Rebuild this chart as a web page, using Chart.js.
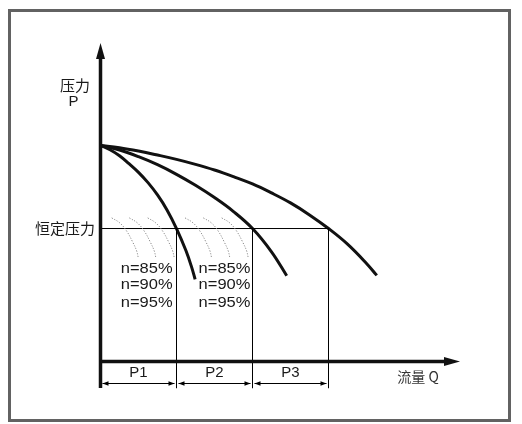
<!DOCTYPE html>
<html>
<head>
<meta charset="utf-8">
<script src="https://cdn.jsdelivr.net/npm/chart.js@4.4.1/dist/chart.umd.min.js"></script>
<style>
html,body{margin:0;padding:0;background:#fff;}
#wrap{width:522px;height:424px;position:relative;}
canvas{display:block;}
</style>
</head>
<body>
<div id="wrap"><canvas id="c" width="522" height="424"></canvas></div>
<script>
// ---- data (flow Q, pressure P) ----
const curve1Q = [0, 2.5, 5, 7.5, 10, 12.5, 15, 17.5, 20, 22.5, 24, 24.9];
const curve1P = [6.5, 6.37, 6.19, 5.95, 5.69, 5.38, 5.01, 4.56, 4.0, 3.33, 2.83, 2.47];
const curve2Q = [0, 5, 10, 15, 20, 25, 30, 35, 40, 45, 49];
const curve2P = [6.5, 6.36, 6.16, 5.92, 5.63, 5.30, 4.93, 4.51, 4.0, 3.3, 2.58];
const curve3Q = [0, 5, 10, 15, 20, 25, 30, 35, 40, 45, 50, 55, 60, 65, 70, 72.7];
const curve3P = [6.5, 6.43, 6.33, 6.21, 6.08, 5.93, 5.76, 5.56, 5.34, 5.07, 4.77, 4.41, 4.0, 3.53, 2.95, 2.59];

const constPressure = 4.0;
const zoneBounds = [0, 20, 40, 60];
const zoneLabels = ["P1", "P2", "P3"];

const arcP  = [4.32, 4.17, 3.92, 3.59, 3.32, 3.11];
const arc1Q = [2.95, 5.06, 6.90, 8.48, 9.53, 9.95];
const arc2Q = [7.58, 9.69, 11.53, 13.11, 14.16, 14.58];
const arc3Q = [12.42, 14.53, 16.37, 17.95, 19.00, 19.42];
const arc4Q = [22.24, 24.35, 26.19, 27.77, 28.82, 29.24];
const arc5Q = [27.05, 29.16, 31.00, 32.58, 33.63, 34.05];
const arc6Q = [31.89, 34.00, 35.84, 37.42, 38.47, 38.89];

const effLabels = ["n=85%", "n=90%", "n=95%"];
const effGroupQ = [12.16, 32.63];
const effRowP = [2.80, 2.30, 1.77];

const yTitle = ["压力", "P"];
const xTitle = "流量 Q";
const constLabel = "恒定压力";

const Q_MIN = 0, Q_MAX = 94.6, P_MIN = -0.8, P_MAX = 9.58;

// ---- build datasets ----
function zip(qs, ps) { return qs.map((q, i) => ({x: q, y: ps[i]})); }

const datasets = [];
[arc1Q, arc2Q, arc3Q, arc4Q, arc5Q, arc6Q].forEach(a => {
  datasets.push({data: zip(a, arcP), showLine: true, borderColor: '#8a8a8a', borderWidth: 1,
    borderDash: [1.2, 1.6], pointRadius: 0, tension: 0.4, clip: false});
});
// constant pressure line
datasets.push({data: [{x: 0, y: constPressure}, {x: zoneBounds[3], y: constPressure}],
  showLine: true, borderColor: '#000', borderWidth: 1, pointRadius: 0, clip: false});
// zone verticals
zoneBounds.slice(1).forEach(b => {
  datasets.push({data: [{x: b, y: constPressure}, {x: b, y: P_MIN}],
    showLine: true, borderColor: '#000', borderWidth: 1, pointRadius: 0, clip: false});
});
[[curve1Q, curve1P], [curve2Q, curve2P], [curve3Q, curve3P]].forEach(([q, p]) => {
  datasets.push({data: zip(q, p), showLine: true, borderColor: '#111', borderWidth: 3,
    pointRadius: 0, tension: 0.4, borderCapStyle: 'butt', clip: false});
});

const overlay = {
  id: 'overlay',
  afterDatasetsDraw(chart) {
    const ctx = chart.ctx, xs = chart.scales.x, ys = chart.scales.y;
    const X = v => xs.getPixelForValue(v), Y = v => ys.getPixelForValue(v);
    ctx.save();
    // axes
    ctx.strokeStyle = '#111'; ctx.fillStyle = '#111';
    ctx.lineWidth = 3.5;
    ctx.beginPath(); ctx.moveTo(X(0), Y(P_MIN)); ctx.lineTo(X(0), Y(P_MAX) + 10); ctx.stroke();
    ctx.beginPath(); ctx.moveTo(X(0), Y(0)); ctx.lineTo(X(Q_MAX) - 10, Y(0)); ctx.stroke();
    // arrow heads
    ctx.beginPath();
    ctx.moveTo(X(0), Y(P_MAX)); ctx.lineTo(X(0) - 4.5, Y(P_MAX) + 16); ctx.lineTo(X(0) + 4.5, Y(P_MAX) + 16);
    ctx.closePath(); ctx.fill();
    ctx.beginPath();
    ctx.moveTo(X(Q_MAX), Y(0)); ctx.lineTo(X(Q_MAX) - 16, Y(0) - 4.5); ctx.lineTo(X(Q_MAX) - 16, Y(0) + 4.5);
    ctx.closePath(); ctx.fill();
    // double arrows below zones
    const ay = Math.round(Y(-0.65)) + 0.5;
    ctx.lineWidth = 1;
    ctx.strokeStyle = '#000'; ctx.fillStyle = '#000';
    for (let i = 0; i < 3; i++) {
      const a = X(zoneBounds[i]) + 2, b = X(zoneBounds[i + 1]) - 2;
      ctx.beginPath(); ctx.moveTo(a, ay); ctx.lineTo(b, ay); ctx.stroke();
      ctx.beginPath(); ctx.moveTo(a, ay); ctx.lineTo(a + 6, ay - 2.2); ctx.lineTo(a + 6, ay + 2.2); ctx.closePath(); ctx.fill();
      ctx.beginPath(); ctx.moveTo(b, ay); ctx.lineTo(b - 6, ay - 2.2); ctx.lineTo(b - 6, ay + 2.2); ctx.closePath(); ctx.fill();
    }
    // texts
    ctx.fillStyle = '#1a1a1a';
    ctx.textBaseline = 'middle';
    ctx.textAlign = 'center';
    ctx.font = '15px "Liberation Sans", Arial, sans-serif';
    for (let i = 0; i < 3; i++) {
      ctx.fillText(zoneLabels[i], X((zoneBounds[i] + zoneBounds[i + 1]) / 2), Y(-0.35));
    }
    effGroupQ.forEach(gq => {
      effLabels.forEach((t, r) => {
        ctx.save();
        ctx.translate(X(gq), Y(effRowP[r]));
        ctx.scale(1.1, 1);
        ctx.fillText(t, 0, 0);
        ctx.restore();
      });
    });
    ctx.font = '15px "Noto Sans CJK SC", sans-serif';
    ctx.fillText(yTitle[0], X(-6.71), Y(8.32));
    ctx.font = '15px "Liberation Sans", Arial, sans-serif';
    ctx.fillText(yTitle[1], X(-7.1), Y(7.80));
    ctx.textAlign = 'right';
    ctx.font = '15px "Noto Sans CJK SC", sans-serif';
    ctx.fillText(constLabel, X(-1.45), Y(constPressure));
    ctx.textAlign = 'center';
    ctx.fillStyle = '#333';
    ctx.font = '14px "Noto Sans CJK SC", sans-serif';
    ctx.fillText(xTitle, X(83.55), Y(-0.47));
    // frame
    ctx.strokeStyle = '#626262'; ctx.lineWidth = 3;
    ctx.strokeRect(9.5, 10.5, 500, 410);
    ctx.restore();
  }
};

new Chart(document.getElementById('c'), {
  type: 'scatter',
  data: {datasets},
  options: {
    responsive: false,
    animation: false,
    devicePixelRatio: 1,
    layout: {padding: {left: 100.5, right: 62, top: 43, bottom: 35.9}},
    plugins: {legend: {display: false}, tooltip: {enabled: false}},
    scales: {
      x: {type: 'linear', display: false, min: Q_MIN, max: Q_MAX},
      y: {type: 'linear', display: false, min: P_MIN, max: P_MAX}
    }
  },
  plugins: [overlay]
});
</script>
</body>
</html>
